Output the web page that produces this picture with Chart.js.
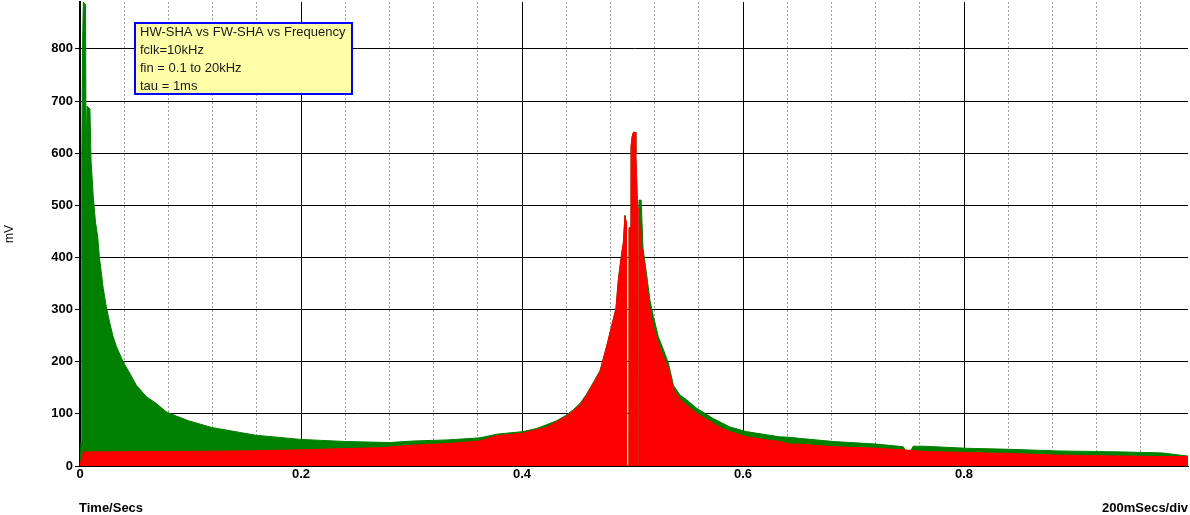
<!DOCTYPE html>
<html>
<head>
<meta charset="utf-8">
<script src="https://cdn.jsdelivr.net/npm/chart.js@4.4.0/dist/chart.umd.min.js"></script>
<style>
  body { margin: 0; background: #fff; }
  #wrap { width: 1190px; height: 515px; position: relative; }
</style>
</head>
<body>
<div id="wrap"><canvas id="myChart"></canvas></div>
<script>
// HW-SHA (green) envelope, time in secs, mV
var hwTime = [0, 0.0010, 0.0014, 0.0018, 0.0024, 0.0030, 0.0050, 0.0055, 0.0064, 0.0090, 0.0100, 0.0120, 0.0140, 0.0160, 0.0175,
  0.021, 0.024, 0.027, 0.030, 0.033, 0.039, 0.045, 0.051, 0.060, 0.069, 0.078, 0.087, 0.098, 0.119, 0.159, 0.200, 0.240, 0.280,
  0.302, 0.332, 0.362, 0.377, 0.401, 0.4133, 0.422, 0.4314, 0.4405, 0.4464, 0.4525, 0.4585, 0.4645, 0.4706, 0.4766, 0.4826, 0.4850, 0.4872, 0.4902, 0.4917, 0.4932,
  0.4945, 0.4946, 0.4968, 0.4969, 0.4986, 0.4987, 0.4997, 0.5008, 0.5025, 0.5030, 0.5045, 0.5047, 0.5058, 0.5059, 0.5078,
  0.5095, 0.5128, 0.5158, 0.5189, 0.5234, 0.528, 0.5324, 0.537, 0.543, 0.549, 0.558, 0.5656, 0.573, 0.5807, 0.588, 0.603, 0.618, 0.633, 0.6425,
  0.651, 0.6817, 0.721, 0.745, 0.747, 0.752, 0.754, 0.763, 0.8024, 0.8416, 0.884, 0.944, 0.980, 0.995, 1.003];
var hwMv = [0, 45, 350, 590, 816, 890, 885, 600, 690, 685, 585, 517, 468, 440, 402,
  341, 303, 274, 248, 229, 200, 178, 155, 133, 120, 104, 96, 87, 74, 59, 51, 47, 45,
  48, 50, 54, 61, 66, 72, 79, 87, 98, 108, 120, 138, 160, 183, 230, 282, 302, 358, 408, 428, 481,
  466, 0, 0, 457, 457, 613, 632, 640, 640, 600, 498, 0, 0, 510, 510,
  418, 367, 318, 287, 248, 223, 198, 155, 136, 127, 111, 101, 91, 83, 75, 66, 61, 56, 55,
  53, 47, 42, 37, 30, 30, 38, 38, 34, 32, 29, 27, 25, 21, 19];

// FW-SHA (red) envelope
var fwTime = [0, 0.0005, 0.0020, 0.0030, 0.100, 0.150, 0.200, 0.250, 0.2715, 0.3016, 0.3318, 0.362, 0.377, 0.401, 0.4133, 0.422,
  0.4314, 0.4405, 0.4464, 0.4525, 0.4585, 0.4645, 0.4706, 0.4766, 0.4826, 0.4850, 0.4872, 0.4902, 0.4917, 0.4932,
  0.4945, 0.4946, 0.4968, 0.4969, 0.4986, 0.4987, 0.4997, 0.5008, 0.5025, 0.5030, 0.5045, 0.5047, 0.5058, 0.5059, 0.5078,
  0.5095, 0.5128, 0.5158, 0.5189, 0.5234, 0.528, 0.5324, 0.537, 0.543, 0.549, 0.558, 0.5656, 0.573, 0.5807, 0.588, 0.603, 0.618, 0.633, 0.6425,
  0.651, 0.6817, 0.721, 0.745, 0.763, 0.8024, 0.8416, 0.884, 0.944, 0.980, 1.003];
var fwMv = [0, 8, 15, 27, 28, 29, 31, 34, 35, 40, 43, 48, 58, 63, 70, 74,
  85, 96, 106, 117, 136, 158, 181, 229, 280, 301, 357, 407, 427, 480,
  466, 0, 0, 457, 457, 613, 632, 640, 640, 600, 498, 0, 0, 495, 421,
  410, 351, 300, 267, 236, 210, 188, 149, 127, 117, 101, 91, 82, 72, 66, 56, 51, 47, 42,
  42, 37, 34, 31, 28, 26, 24, 21, 19, 18, 18];

var xTicks = [0, 0.2, 0.4, 0.6, 0.8];
var yTicks = [0, 100, 200, 300, 400, 500, 600, 700, 800];
var noteLines = ["HW-SHA vs FW-SHA vs Frequency", "fclk=10kHz", "fin = 0.1 to 20kHz", "tau = 1ms"];

function toPoints(xs, ys) {
  var pts = [];
  for (var i = 0; i < xs.length; i++) pts.push({ x: xs[i], y: ys[i] });
  return pts;
}

var overlay = {
  id: "overlay",
  afterDraw: function (chart) {
    var ctx = chart.ctx;
    ctx.save();
    // note box
    ctx.fillStyle = "#ffffa8";
    ctx.fillRect(134, 22, 218, 72);
    ctx.strokeStyle = "#0000ff";
    ctx.lineWidth = 2;
    ctx.strokeRect(135, 23, 217, 71);
    ctx.fillStyle = "#1a1a1a";
    ctx.font = "13px 'Liberation Sans', Arial, sans-serif";
    ctx.textBaseline = "middle";
    for (var i = 0; i < noteLines.length; i++) {
      ctx.fillText(noteLines[i], 140, 32 + i * 18);
    }
    // bottom captions
    ctx.font = "bold 13px 'Liberation Sans', Arial, sans-serif";
    ctx.fillStyle = "#000";
    ctx.textBaseline = "alphabetic";
    ctx.textAlign = "left";
    ctx.fillText("Time/Secs", 79, 512);
    ctx.textAlign = "right";
    ctx.fillText("200mSecs/div", 1188, 512);
    ctx.restore();
  }
};

new Chart("myChart", {
  type: "line",
  data: {
    datasets: [{
      label: "FW-SHA",
      data: toPoints(fwTime, fwMv),
      borderColor: "#ff0000",
      backgroundColor: "#ff0000",
      borderWidth: 1,
      fill: "origin",
      pointRadius: 0,
      tension: 0
    }, {
      label: "HW-SHA",
      data: toPoints(hwTime, hwMv),
      borderColor: "#008000",
      backgroundColor: "#008000",
      borderWidth: 1,
      fill: "origin",
      pointRadius: 0,
      tension: 0
    }]
  },
  options: {
    responsive: true,
    maintainAspectRatio: false,
    animation: false,
    layout: { padding: { top: 2, right: 2, left: 0, bottom: 0 } },
    plugins: { legend: { display: false }, tooltip: { enabled: false } },
    scales: {
      x2: {
        type: "linear",
        position: "bottom",
        min: 0,
        max: 1.0027,
        afterBuildTicks: function (s) {
          var t = [];
          for (var v = 0.04; v < 0.99; v += 0.04) t.push({ value: v });
          s.ticks = t;
        },
        afterFit: function (s) { s.height = 0; s.paddingLeft = 0; s.paddingRight = 0; },
        ticks: { display: false },
        border: { display: false, dash: [2, 2] },
        grid: { color: "#a0a0a0", lineWidth: 1, drawTicks: false }
      },
      x: {
        type: "linear",
        position: "bottom",
        min: 0,
        max: 1.0027,
        afterBuildTicks: function (s) {
          s.ticks = xTicks.map(function (v) { return { value: v }; });
        },
        afterFit: function (s) { s.height = 49; s.paddingLeft = 0; s.paddingRight = 0; },
        ticks: {
          padding: 1,
          color: "#000",
          font: { family: "'Liberation Sans', Arial, sans-serif", size: 13, weight: "bold" },
          maxRotation: 0,
          callback: function (v) { return String(Math.round(v * 10) / 10); }
        },
        border: { display: true, color: "#000", width: 1 },
        grid: { color: "#000", lineWidth: 1, drawTicks: false }
      },
      y: {
        min: 0,
        max: 890,
        afterBuildTicks: function (s) {
          s.ticks = yTicks.map(function (v) { return { value: v }; });
        },
        afterFit: function (s) { s.width = 80; s.paddingTop = 0; s.paddingBottom = 0; },
        ticks: {
          padding: 2,
          color: "#000",
          font: { family: "'Liberation Sans', Arial, sans-serif", size: 13, weight: "bold" }
        },
        title: {
          display: true,
          text: "mV",
          color: "#000",
          padding: { top: 2, bottom: 0 },
          font: { family: "'Liberation Sans', Arial, sans-serif", size: 12 }
        },
        border: { display: true, color: "#000", width: 2 },
        grid: { color: "#000", lineWidth: 1, tickLength: 5 }
      }
    }
  },
  plugins: [overlay]
});
</script>
</body>
</html>
